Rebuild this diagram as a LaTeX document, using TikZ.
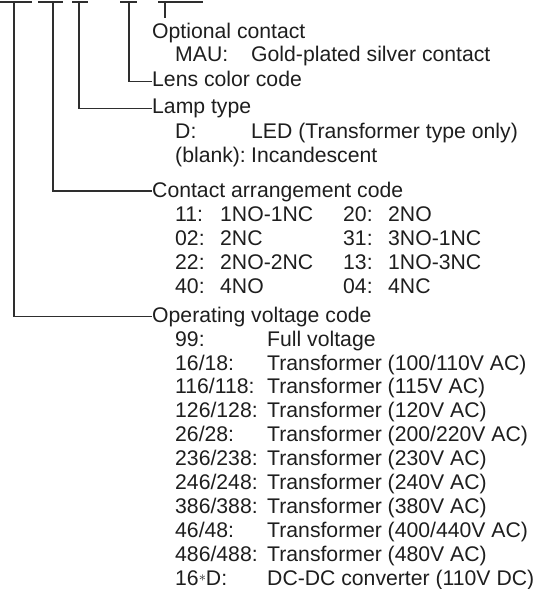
\documentclass[tikz,border=0pt]{standalone}
\usepackage{fontspec}
\setmainfont{Liberation Sans}
\definecolor{ink}{HTML}{1E1E1E}
\definecolor{wire}{HTML}{2E2E2E}
\tikzset{
  txt/.style={anchor=base west, inner sep=0pt, text=ink, font=\fontsize{21.2}{24}\selectfont},
  wireline/.style={draw=wire, line width=1.15pt},
}
\begin{document}
\begin{tikzpicture}[x=1pt,y=-1pt]
\useasboundingbox (0,0) rectangle (547,589);
% underline segments at top
\coordinate (u1a) at (0,2);   \coordinate (u1b) at (32,2);
\coordinate (u2a) at (38,2);  \coordinate (u2b) at (63,2);
\coordinate (u3a) at (72,2);  \coordinate (u3b) at (88,2);
\coordinate (u4a) at (120,2); \coordinate (u4b) at (137,2);
\coordinate (u5a) at (158,2); \coordinate (u5b) at (203,2);
\foreach \s in {1,...,5} \draw[wireline] (u\s a) -- (u\s b);
\coordinate (t1) at (14,2);
\coordinate (t2) at (53,2);
\coordinate (t3) at (79,2);
\coordinate (t4) at (129,2);
\coordinate (t5) at (165,2);
\coordinate (e5) at (165,18);
% texts
\node[txt] (opt) at (152,38) {Optional contact};
\node[txt] (mau) at (175,61) {MAU:};
\node[txt] (mauv) at (251,61) {Gold-plated silver contact};
\node[txt] (lens) at (152,86) {Lens color code};
\node[txt] (lamp) at (152,113) {Lamp type};
\node[txt] (d) at (175,138) {D:};
\node[txt] (dv) at (251,138) {LED (Transformer type only)};
\node[txt] (bl) at (175,162) {(blank):};
\node[txt] (blv) at (251,162) {Incandescent};
\node[txt] (cont) at (152,197) {Contact arrangement code};
\node[txt] (c11) at (175,221) {11:};  \node[txt] (c11v) at (220,221) {1NO-1NC};
\node[txt] (c20) at (343,221) {20:};  \node[txt] (c20v) at (388,221) {2NO};
\node[txt] (c02) at (175,245) {02:};  \node[txt] (c02v) at (220,245) {2NC};
\node[txt] (c31) at (343,245) {31:};  \node[txt] (c31v) at (388,245) {3NO-1NC};
\node[txt] (c22) at (175,269) {22:};  \node[txt] (c22v) at (220,269) {2NO-2NC};
\node[txt] (c13) at (343,269) {13:};  \node[txt] (c13v) at (388,269) {1NO-3NC};
\node[txt] (c40) at (175,293) {40:};  \node[txt] (c40v) at (220,293) {4NO};
\node[txt] (c04) at (343,293) {04:};  \node[txt] (c04v) at (388,293) {4NC};
\node[txt] (oper) at (152,322) {Operating voltage code};
\node[txt] (v1) at (175,346) {99:};       \node[txt] (v1v) at (267,346) {Full voltage};
\node[txt] (v2) at (175,370) {16/18:};    \node[txt] (v2v) at (267,370) {Transformer (100/110V AC)};
\node[txt] (v3) at (175,393.9) {116/118:}; \node[txt] (v3v) at (267,393.9) {Transformer (115V AC)};
\node[txt] (v4) at (175,417.8) {126/128:}; \node[txt] (v4v) at (267,417.8) {Transformer (120V AC)};
\node[txt] (v5) at (175,441.7) {26/28:};   \node[txt] (v5v) at (267,441.7) {Transformer (200/220V AC)};
\node[txt] (v6) at (175,465.6) {236/238:}; \node[txt] (v6v) at (267,465.6) {Transformer (230V AC)};
\node[txt] (v7) at (175,489.5) {246/248:}; \node[txt] (v7v) at (267,489.5) {Transformer (240V AC)};
\node[txt] (v8) at (175,513.4) {386/388:}; \node[txt] (v8v) at (267,513.4) {Transformer (380V AC)};
\node[txt] (v9) at (175,537.3) {46/48:};   \node[txt] (v9v) at (267,537.3) {Transformer (400/440V AC)};
\node[txt] (v10) at (175,561.2) {486/488:}; \node[txt] (v10v) at (267,561.2) {Transformer (480V AC)};
\node[txt] (v11) at (175,585) {16\raisebox{3.2pt}{\fontsize{15}{15}\selectfont$\ast$}D:}; \node[txt] (v11v) at (267,585) {DC-DC converter (110V DC)};
% connectors
\draw[wireline] (t5) -- (e5);
\draw[wireline] (t4) |- ([yshift=4.5pt]lens.base west);
\draw[wireline] (t3) |- ([yshift=4.5pt]lamp.base west);
\draw[wireline] (t2) |- ([yshift=6pt]cont.base west);
\draw[wireline] (t1) |- ([yshift=5.5pt]oper.base west);
\end{tikzpicture}
\end{document}
